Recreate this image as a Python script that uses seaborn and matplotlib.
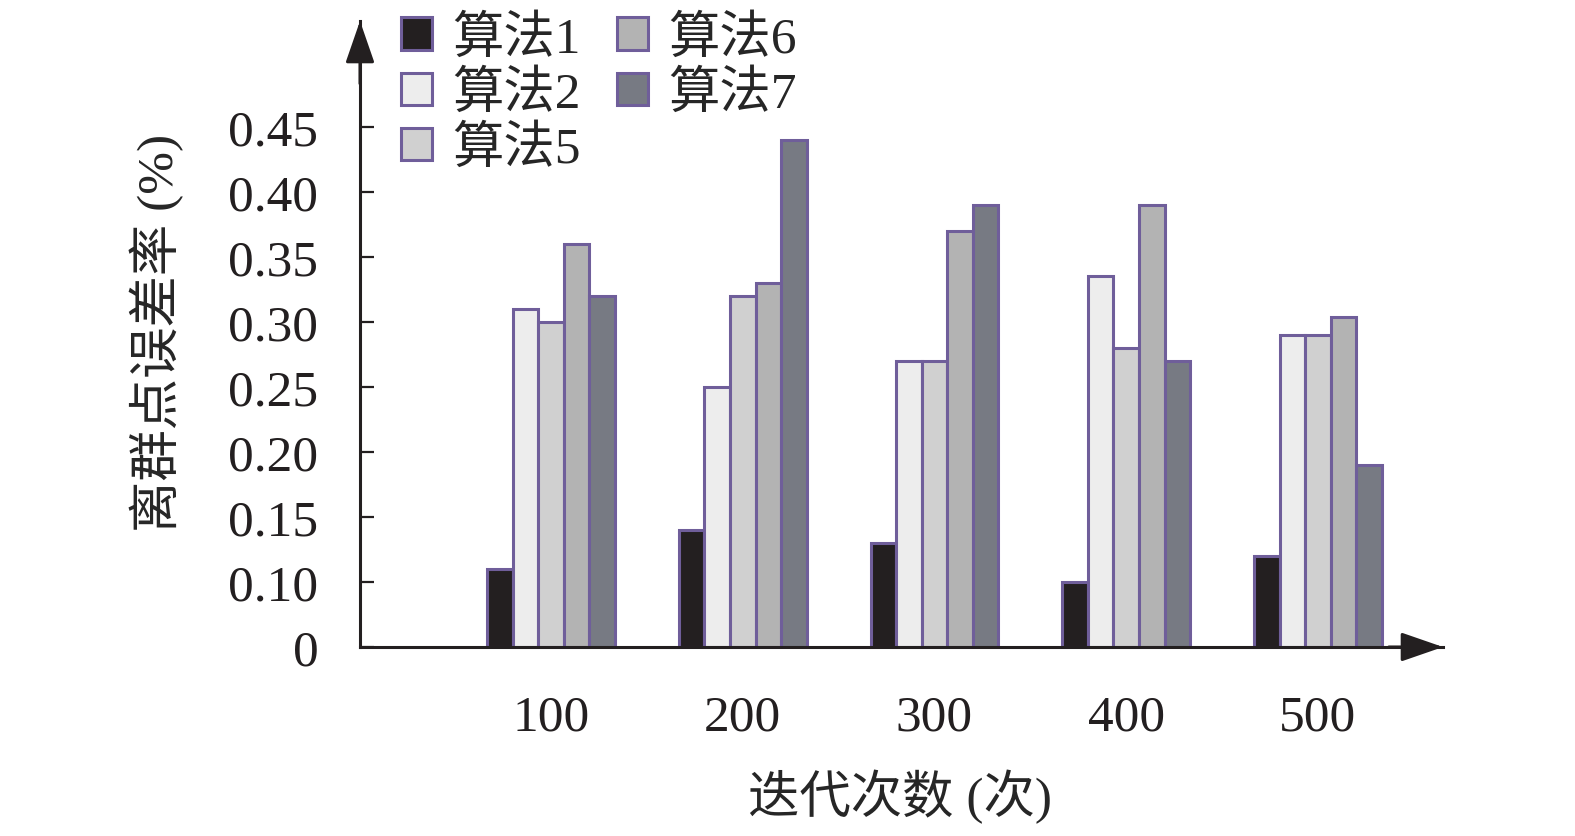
import matplotlib
matplotlib.use("Agg")
import matplotlib.pyplot as plt
import numpy as np
import pandas as pd
import seaborn as sns

# data
iterations = ["100", "200", "300", "400", "500"]
algorithms = ["算法1", "算法2", "算法5", "算法6", "算法7"]
alg1 = [0.11, 0.14, 0.13, 0.10, 0.12]
alg2 = [0.31, 0.25, 0.27, 0.335, 0.29]
alg5 = [0.30, 0.32, 0.27, 0.28, 0.29]
alg6 = [0.36, 0.33, 0.37, 0.39, 0.304]
alg7 = [0.32, 0.44, 0.39, 0.27, 0.19]
yticks = [0, 0.10, 0.15, 0.20, 0.25, 0.30, 0.35, 0.40, 0.45]
ytick_labels = ["0", "0.10", "0.15", "0.20", "0.25", "0.30", "0.35", "0.40", "0.45"]

colors = ["#231f20", "#ededed", "#d0d0d0", "#b3b3b3", "#777a83"]
edge = "#6f5e9a"
FS = 37

rows = []
for name, vals in zip(algorithms, [alg1, alg2, alg5, alg6, alg7]):
    for it, v in zip(iterations, vals):
        rows.append({"iter": it, "alg": name, "value": v})
df = pd.DataFrame(rows)

sns.set_style("white")
plt.rcParams["font.family"] = ["Liberation Serif", "Noto Sans CJK SC"]
plt.rcParams["font.size"] = FS

W, H = 1575, 837
fig = plt.figure(figsize=(W / 100, H / 100), dpi=100)
# axes box in pixels: left 360, right 1443, bottom 648, top 22
ax = fig.add_axes([360 / W, (H - 648) / H, (1443 - 360) / W, (648 - 22) / H])

sns.barplot(data=df, x="iter", y="value", hue="alg", order=iterations,
            hue_order=algorithms, palette=colors, saturation=1, width=0.667,
            edgecolor=edge, linewidth=2.2, ax=ax)


# broken axis: 0 -> 0.10 squeezed into one 0.05 step
def fwd(y):
    y = np.asarray(y, dtype=float)
    return np.where(y < 0.1, y * 0.5, y - 0.05)


def inv(y):
    y = np.asarray(y, dtype=float)
    return np.where(y < 0.05, y * 2, y + 0.05)


ax.set_yscale("function", functions=(fwd, inv))
ax.set_ylim(0, 0.5315)
ax.set_xlim(-0.996, 4.652)
ax.set_yticks(yticks)
ax.set_yticklabels(ytick_labels)
ax.minorticks_off()

for s in ["top", "right"]:
    ax.spines[s].set_visible(False)
for s in ["left", "bottom"]:
    ax.spines[s].set_linewidth(2.2)
    ax.spines[s].set_color("#231f20")

ax.tick_params(axis="y", direction="in", length=10, width=1.6, pad=30,
               left=True, colors="#231f20", labelsize=FS)
ax.tick_params(axis="x", direction="in", length=9, width=1.6, pad=34,
               bottom=True, colors="#231f20", labelsize=FS)

# arrow heads
arrow = dict(arrowstyle="-|>,head_length=1.3,head_width=0.45", color="#231f20",
             lw=2.2, shrinkA=0, shrinkB=0, mutation_scale=20)
ax.annotate("", xy=(1, 0), xytext=(0.95, 0), xycoords="axes fraction",
            arrowprops=arrow, annotation_clip=False)
ax.annotate("", xy=(0, 1), xytext=(0, 0.9), xycoords="axes fraction",
            arrowprops=arrow, annotation_clip=False)

ax.set_xlabel("迭代次数 (次)", fontsize=FS)
ax.xaxis.label.set_va("center")
ax.xaxis.set_label_coords(0.499, (648 - 797) / 626)
ax.set_ylabel("离群点误差率 (%)", fontsize=FS)
ax.yaxis.label.set_va("center")
ax.yaxis.set_label_coords((157 - 360) / 1083, (648 - 333) / 626)

handles, labels = ax.get_legend_handles_labels()
ax.legend(handles, labels, ncol=2, frameon=False, loc="upper left",
          bbox_to_anchor=(401 / W, 1 - 16 / H), bbox_transform=fig.transFigure,
          borderpad=0, handlelength=0.6, handleheight=0.6, handletextpad=0.4,
          columnspacing=0.7, labelspacing=0.15, fontsize=FS, borderaxespad=0)

fig.savefig("out.png", dpi=100)
